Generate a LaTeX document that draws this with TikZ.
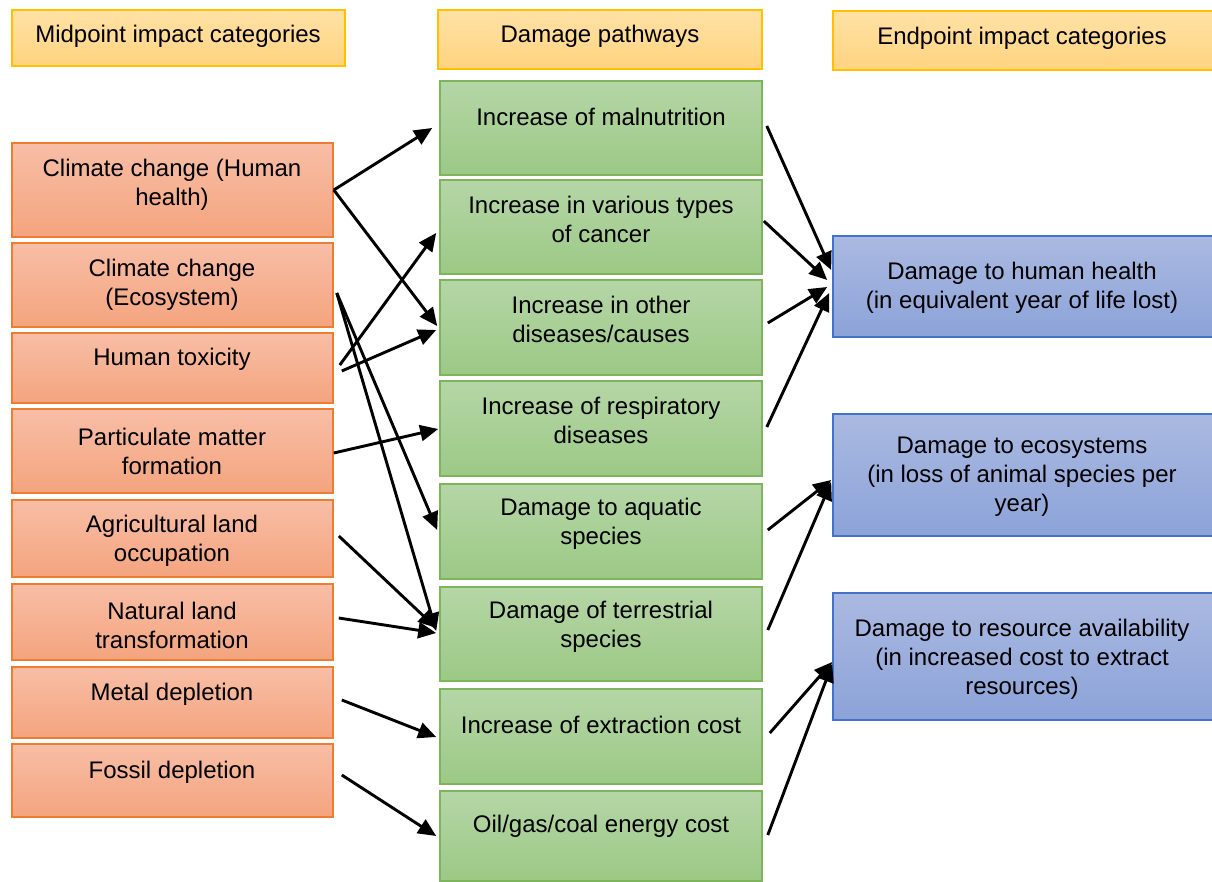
\documentclass[tikz,border=0pt]{standalone}
\usepackage{fontspec}
\setmainfont{Liberation Sans}
\usetikzlibrary{arrows.meta,fit,calc}

\definecolor{hdTop}{HTML}{FFE2A6}
\definecolor{hdBot}{HTML}{FFD37F}
\definecolor{hdLine}{HTML}{FFC000}
\definecolor{rdTop}{HTML}{F8BEA6}
\definecolor{rdBot}{HTML}{F4A47E}
\definecolor{rdLine}{HTML}{ED7D31}
\definecolor{gnTop}{HTML}{B5D6A6}
\definecolor{gnBot}{HTML}{9CC986}
\definecolor{gnLine}{HTML}{7DB45C}
\definecolor{blTop}{HTML}{AAB9E1}
\definecolor{blBot}{HTML}{8CA3D9}
\definecolor{blLine}{HTML}{4472C4}

\tikzset{
  box/.style={rectangle, inner sep=0pt, line width=0.8pt},
  hdbox/.style={box, draw=hdLine, top color=hdTop, bottom color=hdBot},
  midbox/.style={box, draw=rdLine, top color=rdTop, bottom color=rdBot},
  pathbox/.style={box, draw=gnLine, top color=gnTop, bottom color=gnBot},
  endbox/.style={box, draw=blLine, top color=blTop, bottom color=blBot},
  txt/.style={inner sep=0pt, align=center, font=\fontsize{12}{14.5}\selectfont},
  arr/.style={line width=1.45pt, -{Triangle[length=9pt,width=8pt]}}
}

\begin{document}
\begin{tikzpicture}[x=0.5pt, y=-0.5pt]
\useasboundingbox (0,0) rectangle (1212,882);

% column headers
\node[hdbox, fit={(12,10)(345,66)}] (h1) {};
\node[hdbox, fit={(438,10)(762,69)}] (h2) {};
\node[hdbox, fit={(833,11)(1215,70)}] (h3) {};
\node[txt] (h1t) at (178,36) {Midpoint impact categories};
\node[txt] (h2t) at (600,36) {Damage pathways};
\node[txt] (h3t) at (1022,38) {Endpoint impact categories};

% midpoint categories
\node[midbox, fit={(12,143)(333,237)}] (r1) {};
\node[midbox, fit={(12,243)(333,327)}] (r2) {};
\node[midbox, fit={(12,333)(333,403)}] (r3) {};
\node[midbox, fit={(12,409)(333,493)}] (r4) {};
\node[midbox, fit={(12,500)(333,577)}] (r5) {};
\node[midbox, fit={(12,584)(333,660)}] (r6) {};
\node[midbox, fit={(12,667)(333,738)}] (r7) {};
\node[midbox, fit={(12,744)(333,817)}] (r8) {};
\node[txt] (r1t) at (172,184.5) {Climate change (Human\\health)};
\node[txt] (r2t) at (172,284.5) {Climate change\\(Ecosystem)};
\node[txt] (r3t) at (172,359) {Human toxicity};
\node[txt] (r4t) at (172,451.5) {Particulate matter\\formation};
\node[txt] (r5t) at (172,540.5) {Agricultural land\\occupation};
\node[txt] (r6t) at (172,625.5) {Natural land\\transformation};
\node[txt] (r7t) at (172,694) {Metal depletion};
\node[txt] (r8t) at (172,772) {Fossil depletion};

% damage pathways
\node[pathbox, fit={(440,81)(762,175)}] (g1) {};
\node[pathbox, fit={(440,180)(762,274)}] (g2) {};
\node[pathbox, fit={(440,280)(762,375)}] (g3) {};
\node[pathbox, fit={(440,381)(762,476)}] (g4) {};
\node[pathbox, fit={(440,484)(762,579)}] (g5) {};
\node[pathbox, fit={(440,587)(762,681)}] (g6) {};
\node[pathbox, fit={(440,689)(762,784)}] (g7) {};
\node[pathbox, fit={(440,791)(762,881)}] (g8) {};
\node[txt] (g1t) at (601,117) {Increase of malnutrition};
\node[txt] (g2t) at (601,219.5) {Increase in various types\\of cancer};
\node[txt] (g3t) at (601,319.5) {Increase in other\\diseases/causes};
\node[txt] (g4t) at (601,420.5) {Increase of respiratory\\diseases};
\node[txt] (g5t) at (601,524) {Damage to aquatic\\species};
\node[txt] (g6t) at (601,626.5) {Damage of terrestrial\\species};
\node[txt] (g7t) at (601,725) {Increase of extraction cost};
\node[txt] (g8t) at (601,826) {Oil/gas/coal energy cost};

% endpoint categories
\node[endbox, fit={(833,236)(1215,337)}] (b1) {};
\node[endbox, fit={(833,414)(1215,536)}] (b2) {};
\node[endbox, fit={(833,593)(1215,720)}] (b3) {};
\node[txt] (b1t) at (1022,287.5) {Damage to human health\\(in equivalent year of life lost)};
\node[txt] (b2t) at (1022,476.5) {Damage to ecosystems\\(in loss of animal species per\\year)};
\node[txt] (b3t) at (1022,659) {Damage to resource availability\\(in increased cost to extract\\resources)};

% midpoint -> pathway links
\draw[arr] (r1.east) -- ([shift={(-7,0)}]g1.west);
\draw[arr] (r1.east) -- ([shift={(-2,-1.5)}]g3.west);
\draw[arr] ([shift={(6,-3)}]r3.east) -- ([shift={(-3,6)}]g2.west);
\draw[arr] ([shift={(8,3)}]r3.east) -- ([shift={(-3,2.5)}]g3.west);
\draw[arr] ([shift={(3,8)}]r2.east) -- ([shift={(-2,-1.5)}]g5.west);
\draw[arr] ([shift={(3,8)}]r2.east) -- ([shift={(-3,-3)}]g6.west);
\draw[arr] ([shift={(0,2)}]r4.east) -- ([shift={(-1,0.5)}]g4.west);
\draw[arr] ([shift={(5,-2.5)}]r5.east) -- ([shift={(-3,-6)}]g6.west);
\draw[arr] ([shift={(5,-4)}]r6.east) -- ([shift={(-3,-1)}]g6.west);
\draw[arr] ([shift={(8,-2.5)}]r7.east) -- ([shift={(-3,0.5)}]g7.west);
\draw[arr] ([shift={(8,-5.5)}]r8.east) -- ([shift={(-3,0)}]g8.west);

% pathway -> endpoint links
\draw[arr] ([shift={(4,-2)}]g1.east) -- ([shift={(-1,-16.5)}]b1.west);
\draw[arr] ([shift={(1,-6)}]g2.east) -- ([shift={(-5,-6.5)}]b1.west);
\draw[arr] ([shift={(5,-4.5)}]g3.east) -- ([shift={(-5,0.5)}]b1.west);
\draw[arr] ([shift={(4,-1.5)}]g4.east) -- ([shift={(-3,6.5)}]b1.west);
\draw[arr] ([shift={(5,-1.5)}]g5.east) -- ([shift={(-1,5)}]b2.west);
\draw[arr] ([shift={(5,-4)}]g6.east) -- ([shift={(-1,7)}]b2.west);
\draw[arr] ([shift={(7,-3.5)}]g7.east) -- ([shift={(0,5.5)}]b3.west);
\draw[arr] ([shift={(5,-1)}]g8.east) -- ([shift={(0,7.5)}]b3.west);
\end{tikzpicture}
\end{document}
